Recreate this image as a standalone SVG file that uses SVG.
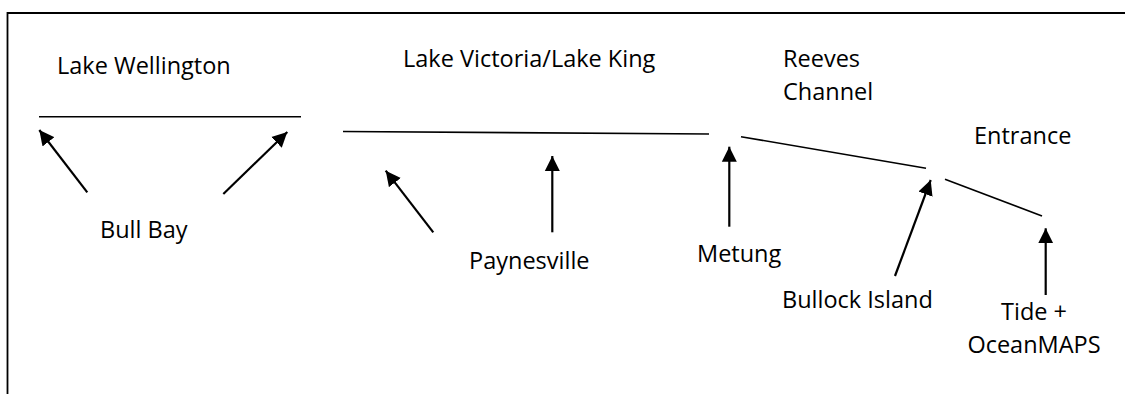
<svg xmlns="http://www.w3.org/2000/svg" width="1125" height="394" viewBox="0 0 1125 394">
<style>
text{font-family:"Open Sans","Noto Sans","Liberation Sans",sans-serif;font-size:23.5px;fill:#000}
.ln{stroke:#000;stroke-width:1.6;fill:none}
.ar{stroke:#000;stroke-width:2.2;fill:none;marker-end:url(#ah)}
</style>
<defs>
<marker id="ah" markerUnits="userSpaceOnUse" markerWidth="16" markerHeight="16" refX="15" refY="7.5" orient="auto" viewBox="0 0 16 15">
<path d="M0,0 L15,7.5 L0,15 z" fill="#000"/>
</marker>
</defs>
<g id="frame"><path class="ln" d="M7.5,394 V13 H1125" style="stroke-width:1.8"/></g>
<g id="lake-wellington"><text x="57" y="74">Lake Wellington</text><line class="ln" x1="39" y1="116.7" x2="301" y2="116.7"/></g>
<g id="lake-victoria"><text x="403" y="67">Lake Victoria/Lake King</text><line class="ln" x1="343" y1="131.5" x2="709" y2="134"/></g>
<g id="reeves-channel"><text x="783" y="67">Reeves</text><text x="783" y="99.5">Channel</text><line class="ln" x1="741" y1="136.7" x2="926" y2="168.3"/></g>
<g id="entrance"><text x="974" y="143.5">Entrance</text><line class="ln" x1="945" y1="179.3" x2="1042" y2="216"/></g>
<g id="bull-bay"><text x="100" y="238">Bull Bay</text></g>
<g id="paynesville"><text x="469" y="268.5">Paynesville</text></g>
<g id="metung"><text x="697" y="262">Metung</text></g>
<g id="bullock-island"><text x="782" y="307.5">Bullock Island</text></g>
<g id="tide"><text x="1034" y="319.5" text-anchor="middle">Tide +</text><text x="1034" y="352.7" text-anchor="middle">OceanMAPS</text></g>
<g id="connectors">
<line class="ar" x1="87.3" y1="192.3" x2="39.3" y2="130"/>
<line class="ar" x1="223.3" y1="194" x2="287.3" y2="132"/>
<line class="ar" x1="433.3" y1="232.3" x2="385.7" y2="170.7"/>
<line class="ar" x1="552.3" y1="232.3" x2="552.3" y2="156"/>
<line class="ar" x1="729.3" y1="226.7" x2="729.3" y2="146.7"/>
<line class="ar" x1="895" y1="276" x2="930.7" y2="180"/>
<line class="ar" x1="1045.7" y1="295" x2="1045.7" y2="228.3"/>
</g>
</svg>
